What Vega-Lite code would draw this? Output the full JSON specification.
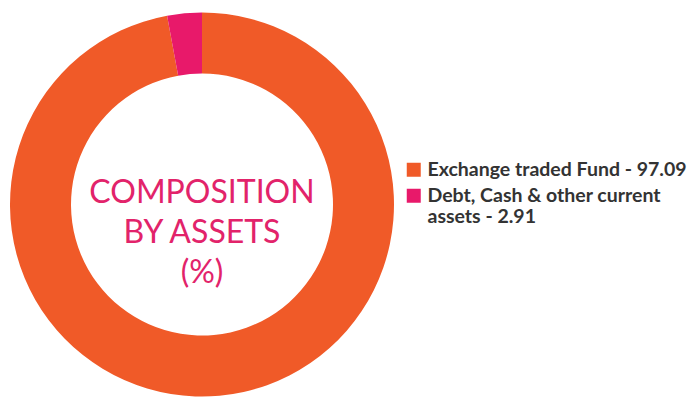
{
  "$schema": "https://vega.github.io/schema/vega-lite/v6.json",
  "width": 404,
  "height": 409,
  "padding": 0,
  "background": "white",
  "config": {"view": {"stroke": null}},
  "layer": [
    {
      "data": {"values": [
        {"category": "Exchange traded Fund - 97.09", "value": 97.09, "order": 1},
        {"category": "Debt, Cash & other current assets - 2.91", "value": 2.91, "order": 2}
      ]},
      "mark": {"type": "arc", "outerRadius": 192, "innerRadius": 131, "stroke": null},
      "encoding": {
        "theta": {"field": "value", "type": "quantitative", "stack": true},
        "order": {"field": "order", "type": "quantitative"},
        "color": {
          "field": "category",
          "type": "nominal",
          "scale": {
            "domain": ["Exchange traded Fund - 97.09", "Debt, Cash & other current assets - 2.91"],
            "range": ["#F05A28", "#E8196A"]
          },
          "legend": {
            "title": null,
            "orient": "none",
            "legendX": 404,
            "legendY": 160,
            "padding": 0,
            "symbolType": "square",
            "symbolSize": 196,
            "symbolStrokeWidth": 0,
            "labelFont": "Lato",
            "labelFontWeight": "bold",
            "labelFontSize": 19.5,
            "labelColor": "#333333",
            "labelLimit": 400,
            "labelOffset": 4,
            "labelLineHeight": 25,
            "rowPadding": 5,
            "labelExpr": "datum.label == 'Debt, Cash & other current assets - 2.91' ? ['Debt, Cash & other current', 'assets - 2.91'] : datum.label"
          }
        }
      }
    },
    {
      "data": {"values": [{"caption": "COMPOSITION\nBY ASSETS\n(%)"}]},
      "mark": {
        "type": "text",
        "lineBreak": "\n",
        "font": "Lato",
        "fontWeight": "normal",
        "fontSize": 32,
        "lineHeight": 40,
        "color": "#E2236A",
        "align": "center",
        "baseline": "alphabetic",
        "dy": -2
      },
      "encoding": {
        "text": {"field": "caption", "type": "nominal"}
      }
    }
  ]
}
